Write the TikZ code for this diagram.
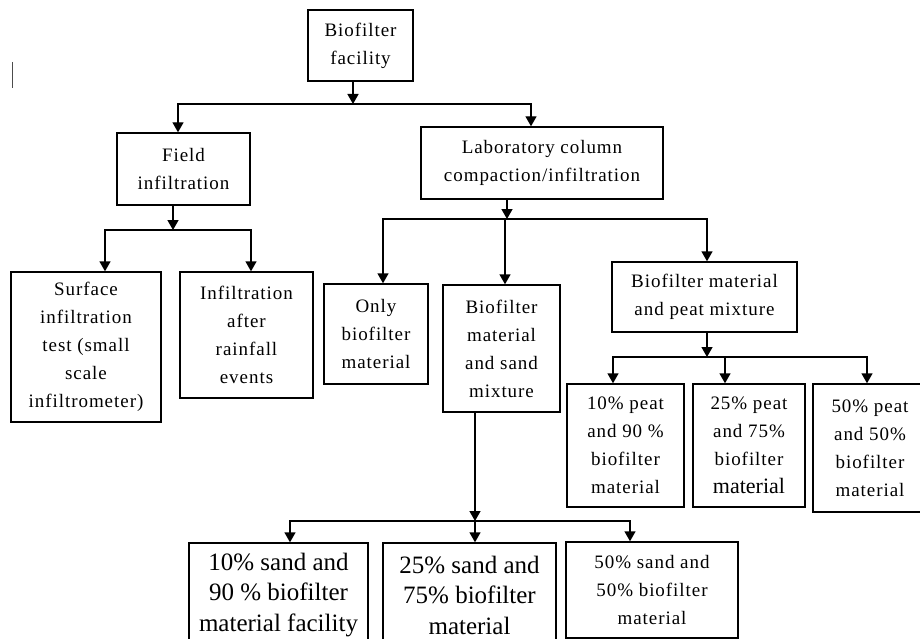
\documentclass[tikz,border=0pt]{standalone}
\usepackage{fontspec}
\setmainfont{Liberation Serif}
\newfontfamily\spcfont{Liberation Serif}[LetterSpace=5]
\usetikzlibrary{arrows.meta}
\begin{document}
\begin{tikzpicture}[x=1pt,y=-1pt,
  box/.style={draw,line width=1.4pt,rectangle,inner sep=0pt,align=center,
    font=\spcfont\fontsize{19}{28}\selectfont},
  bigbox/.style={box,font=\fontsize{25}{30.5}\selectfont},
  ln/.style={line width=1.4pt},
  arr/.style={ln,-{Triangle[length=10pt,width=11pt]}}]
\useasboundingbox (0,0) rectangle (920,639);
\clip (0,0) rectangle (920,639);
% stray cursor mark
\draw[gray!60!black,line width=1pt] (12,62) -- (12,88);
% nodes
\node[box,minimum width=105pt,minimum height=71pt] (top) at (360.5,45.5) {Biofilter\\facility};
\node[box,minimum width=133pt,minimum height=72pt] (field) at (183.5,169) {Field\\infiltration};
\node[box,minimum width=242pt,minimum height=72pt] (lab) at (542,163) {Laboratory column\\compaction/infiltration};
\node[box,minimum width=150pt,minimum height=150pt] (surf) at (86,347) {Surface\\infiltration\\test (small\\scale\\infiltrometer)};
\node[box,minimum width=133pt,minimum height=126pt] (rain) at (246.5,335) {Infiltration\\after\\rainfall\\events};
\node[box,minimum width=104pt,minimum height=100pt] (only) at (376,334) {Only\\biofilter\\material};
\node[box,minimum width=117pt,minimum height=127pt] (sandmix) at (501.5,348.5) {Biofilter\\material\\and sand\\mixture};
\node[box,minimum width=185pt,minimum height=70pt] (peatmix) at (704.5,297) {Biofilter material\\and peat mixture};
\node[box,minimum width=117pt,minimum height=123pt] (p10) at (625.5,445.5) {10\% peat\\and 90 \%\\biofilter\\material};
\node[box,minimum width=112pt,minimum height=123pt] (p25) at (749,445.5) {25\% peat\\and 75\%\\biofilter\\{\fontsize{22}{28}\selectfont\rmfamily material}};
\node[box,minimum width=114pt,minimum height=128pt] (p50) at (870,448) {50\% peat\\and 50\%\\biofilter\\material};
\node[bigbox,minimum width=179pt,minimum height=104pt] (s10) at (278.5,595) {10\% sand and\\90 \% biofilter\\material facility};
\node[bigbox,minimum width=173pt,minimum height=104pt] (s25) at (469.5,595) {25\% sand and\\75\% biofilter\\material};
\node[box,minimum width=172pt,minimum height=96pt] (s50) at (652,590) {\raisebox{-3pt}{50\% sand and}\\\raisebox{-3pt}{50\% biofilter}\\\raisebox{-3pt}{material}};
% junction coordinates
\coordinate (j1) at (353,104);
\coordinate (j2) at (173,230);
\coordinate (j3) at (507,219);
\coordinate (j4) at (707,357);
\coordinate (j5) at (475,521);
% connectors
\draw[arr] (top.south -| j1) -- (j1);
\draw[arr] (j1) -| ([xshift=-5.5pt]field.north);
\draw[arr] (j1) -| ([xshift=-11pt]lab.north);
\draw[arr] (field.south -| j2) -- (j2);
\draw[arr] (j2) -| ([xshift=19pt]surf.north);
\draw[arr] (j2) -| ([xshift=4.5pt]rain.north);
\draw[arr] (lab.south -| j3) -- (j3);
\draw[arr] (j3) -| ([xshift=7pt]only.north);
\draw[arr] (j3) -| ([xshift=3.5pt]sandmix.north);
\draw[arr] (j3) -| ([xshift=2.5pt]peatmix.north);
\draw[arr] (peatmix.south -| j4) -- (j4);
\draw[arr] (j4) -| ([xshift=-12.5pt]p10.north);
\draw[arr] (j4) -| ([xshift=-24pt]p25.north);
\draw[arr] (j4) -| ([xshift=-3pt]p50.north);
\draw[arr] (sandmix.south -| j5) -- (j5);
\draw[arr] (j5) -| ([xshift=11.5pt]s10.north);
\draw[arr] (j5) -| ([xshift=5.5pt]s25.north);
\draw[arr] (j5) -| ([xshift=-22pt]s50.north);
\end{tikzpicture}
\end{document}
